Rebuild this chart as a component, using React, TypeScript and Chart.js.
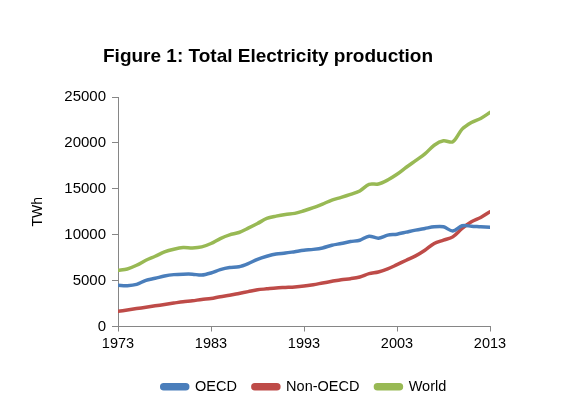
import React, { useEffect, useRef } from 'react';
import { Chart, registerables } from 'chart.js';

Chart.register(...registerables);

const chartTitle = 'Figure 1: Total Electricity production';
const yAxisTitle = 'TWh';

const years = [
  1973, 1974, 1975, 1976, 1977, 1978, 1979, 1980, 1981, 1982,
  1983, 1984, 1985, 1986, 1987, 1988, 1989, 1990, 1991, 1992,
  1993, 1994, 1995, 1996, 1997, 1998, 1999, 2000, 2001, 2002,
  2003, 2004, 2005, 2006, 2007, 2008, 2009, 2010, 2011, 2012, 2013,
];

const oecd = [
  4480, 4450, 4590, 5030, 5250, 5500, 5650, 5700, 5700, 5600,
  5830, 6200, 6420, 6500, 6850, 7320, 7650, 7900, 8000, 8150,
  8300, 8400, 8560, 8850, 9040, 9250, 9400, 9840, 9620, 9950,
  10060, 10280, 10500, 10680, 10860, 10860, 10400, 10970, 10930, 10860, 10800,
];

const nonOecd = [
  1650, 1800, 1950, 2100, 2250, 2400, 2550, 2700, 2800, 2950,
  3050, 3250, 3400, 3600, 3800, 4000, 4100, 4200, 4250, 4300,
  4400, 4555, 4740, 4920, 5100, 5210, 5390, 5760, 5940, 6270,
  6740, 7215, 7690, 8310, 9040, 9400, 9765, 10680, 11405, 11880, 12500,
];

const world = [
  6120, 6270, 6670, 7215, 7650, 8125, 8420, 8600, 8560, 8670,
  9040, 9580, 9985, 10240, 10710, 11220, 11770, 12025, 12210, 12320,
  12610, 12940, 13340, 13770, 14065, 14390, 14760, 15490, 15520, 15960,
  16580, 17345, 18070, 18800, 19750, 20225, 20115, 21500, 22230, 22665, 23320,
];

const seriesNames = ['OECD', 'Non-OECD', 'World'];
const seriesValues = [oecd, nonOecd, world];
const seriesColors = ['#4A7EBB', '#BE4B48', '#98B954'];

const xTicks = [1973, 1983, 1993, 2003, 2013];
const yTicks = [0, 5000, 10000, 15000, 20000, 25000];

const FONT = '"Liberation Sans", Arial, sans-serif';

export default function App() {
  const canvasRef = useRef<HTMLCanvasElement | null>(null);

  useEffect(() => {
    const canvas = canvasRef.current;
    if (!canvas) return;

    const titlePlugin = {
      id: 'figTitle',
      afterDraw(chart: any) {
        const ctx = chart.ctx;
        ctx.save();
        ctx.font = `bold 19px ${FONT}`;
        ctx.fillStyle = '#000';
        ctx.textBaseline = 'middle';
        ctx.textAlign = 'left';
        ctx.fillText(chartTitle, 103, 57);
        ctx.restore();
      },
    };

    const chart = new Chart(canvas, {
      type: 'line',
      data: {
        datasets: seriesNames.map((name, i) => ({
          label: name,
          data: years.map((yr, j) => ({ x: yr, y: seriesValues[i][j] })),
          borderColor: seriesColors[i],
          backgroundColor: seriesColors[i],
          borderWidth: 3.5,
          pointRadius: 0,
          tension: 0.3,
          borderCapStyle: 'round',
          borderJoinStyle: 'round',
        })),
      },
      options: {
        animation: false,
        responsive: false,
        devicePixelRatio: 1,
        layout: { padding: { top: 97, left: 0, right: 90, bottom: 5 } },
        plugins: {
          title: { display: false },
          tooltip: { enabled: false },
          legend: {
            position: 'bottom',
            fullSize: false,
            labels: {
              boxWidth: 26,
              boxHeight: 4,
              padding: 16,
              color: '#000',
              font: { family: FONT, size: 14.5 },
              useBorderRadius: true,
              borderRadius: 2,
            },
          },
        },
        scales: {
          x: {
            type: 'linear',
            min: 1973,
            max: 2013,
            afterBuildTicks: (s: any) => {
              s.ticks = xTicks.map((v) => ({ value: v }));
            },
            afterFit: (s: any) => {
              s.height = 37;
            },
            ticks: {
              color: '#000',
              font: { family: FONT, size: 14.5 },
              padding: 4,
              maxRotation: 0,
              callback: (v: any) => String(v),
            },
            grid: { drawOnChartArea: false, tickLength: 5, color: '#868686' },
            border: { color: '#868686', width: 1 },
          },
          y: {
            min: 0,
            max: 25000,
            afterBuildTicks: (s: any) => {
              s.ticks = yTicks.map((v) => ({ value: v }));
            },
            afterFit: (s: any) => {
              s.width = 118;
            },
            ticks: {
              color: '#000',
              font: { family: FONT, size: 15 },
              padding: 6,
              callback: (v: any) => String(v),
            },
            grid: { drawOnChartArea: false, tickLength: 6, color: '#868686' },
            border: { color: '#868686', width: 1 },
            title: {
              display: true,
              text: yAxisTitle,
              color: '#000',
              font: { family: FONT, size: 14 },
              padding: { top: 30, bottom: 0 },
            },
          },
        },
      },
      plugins: [titlePlugin],
    } as any);

    return () => chart.destroy();
  }, []);

  return (
    <div style={{ position: 'absolute', left: 0, top: 0, width: 580, height: 409, background: '#fff' }}>
      <canvas ref={canvasRef} width={580} height={409} />
    </div>
  );
}
